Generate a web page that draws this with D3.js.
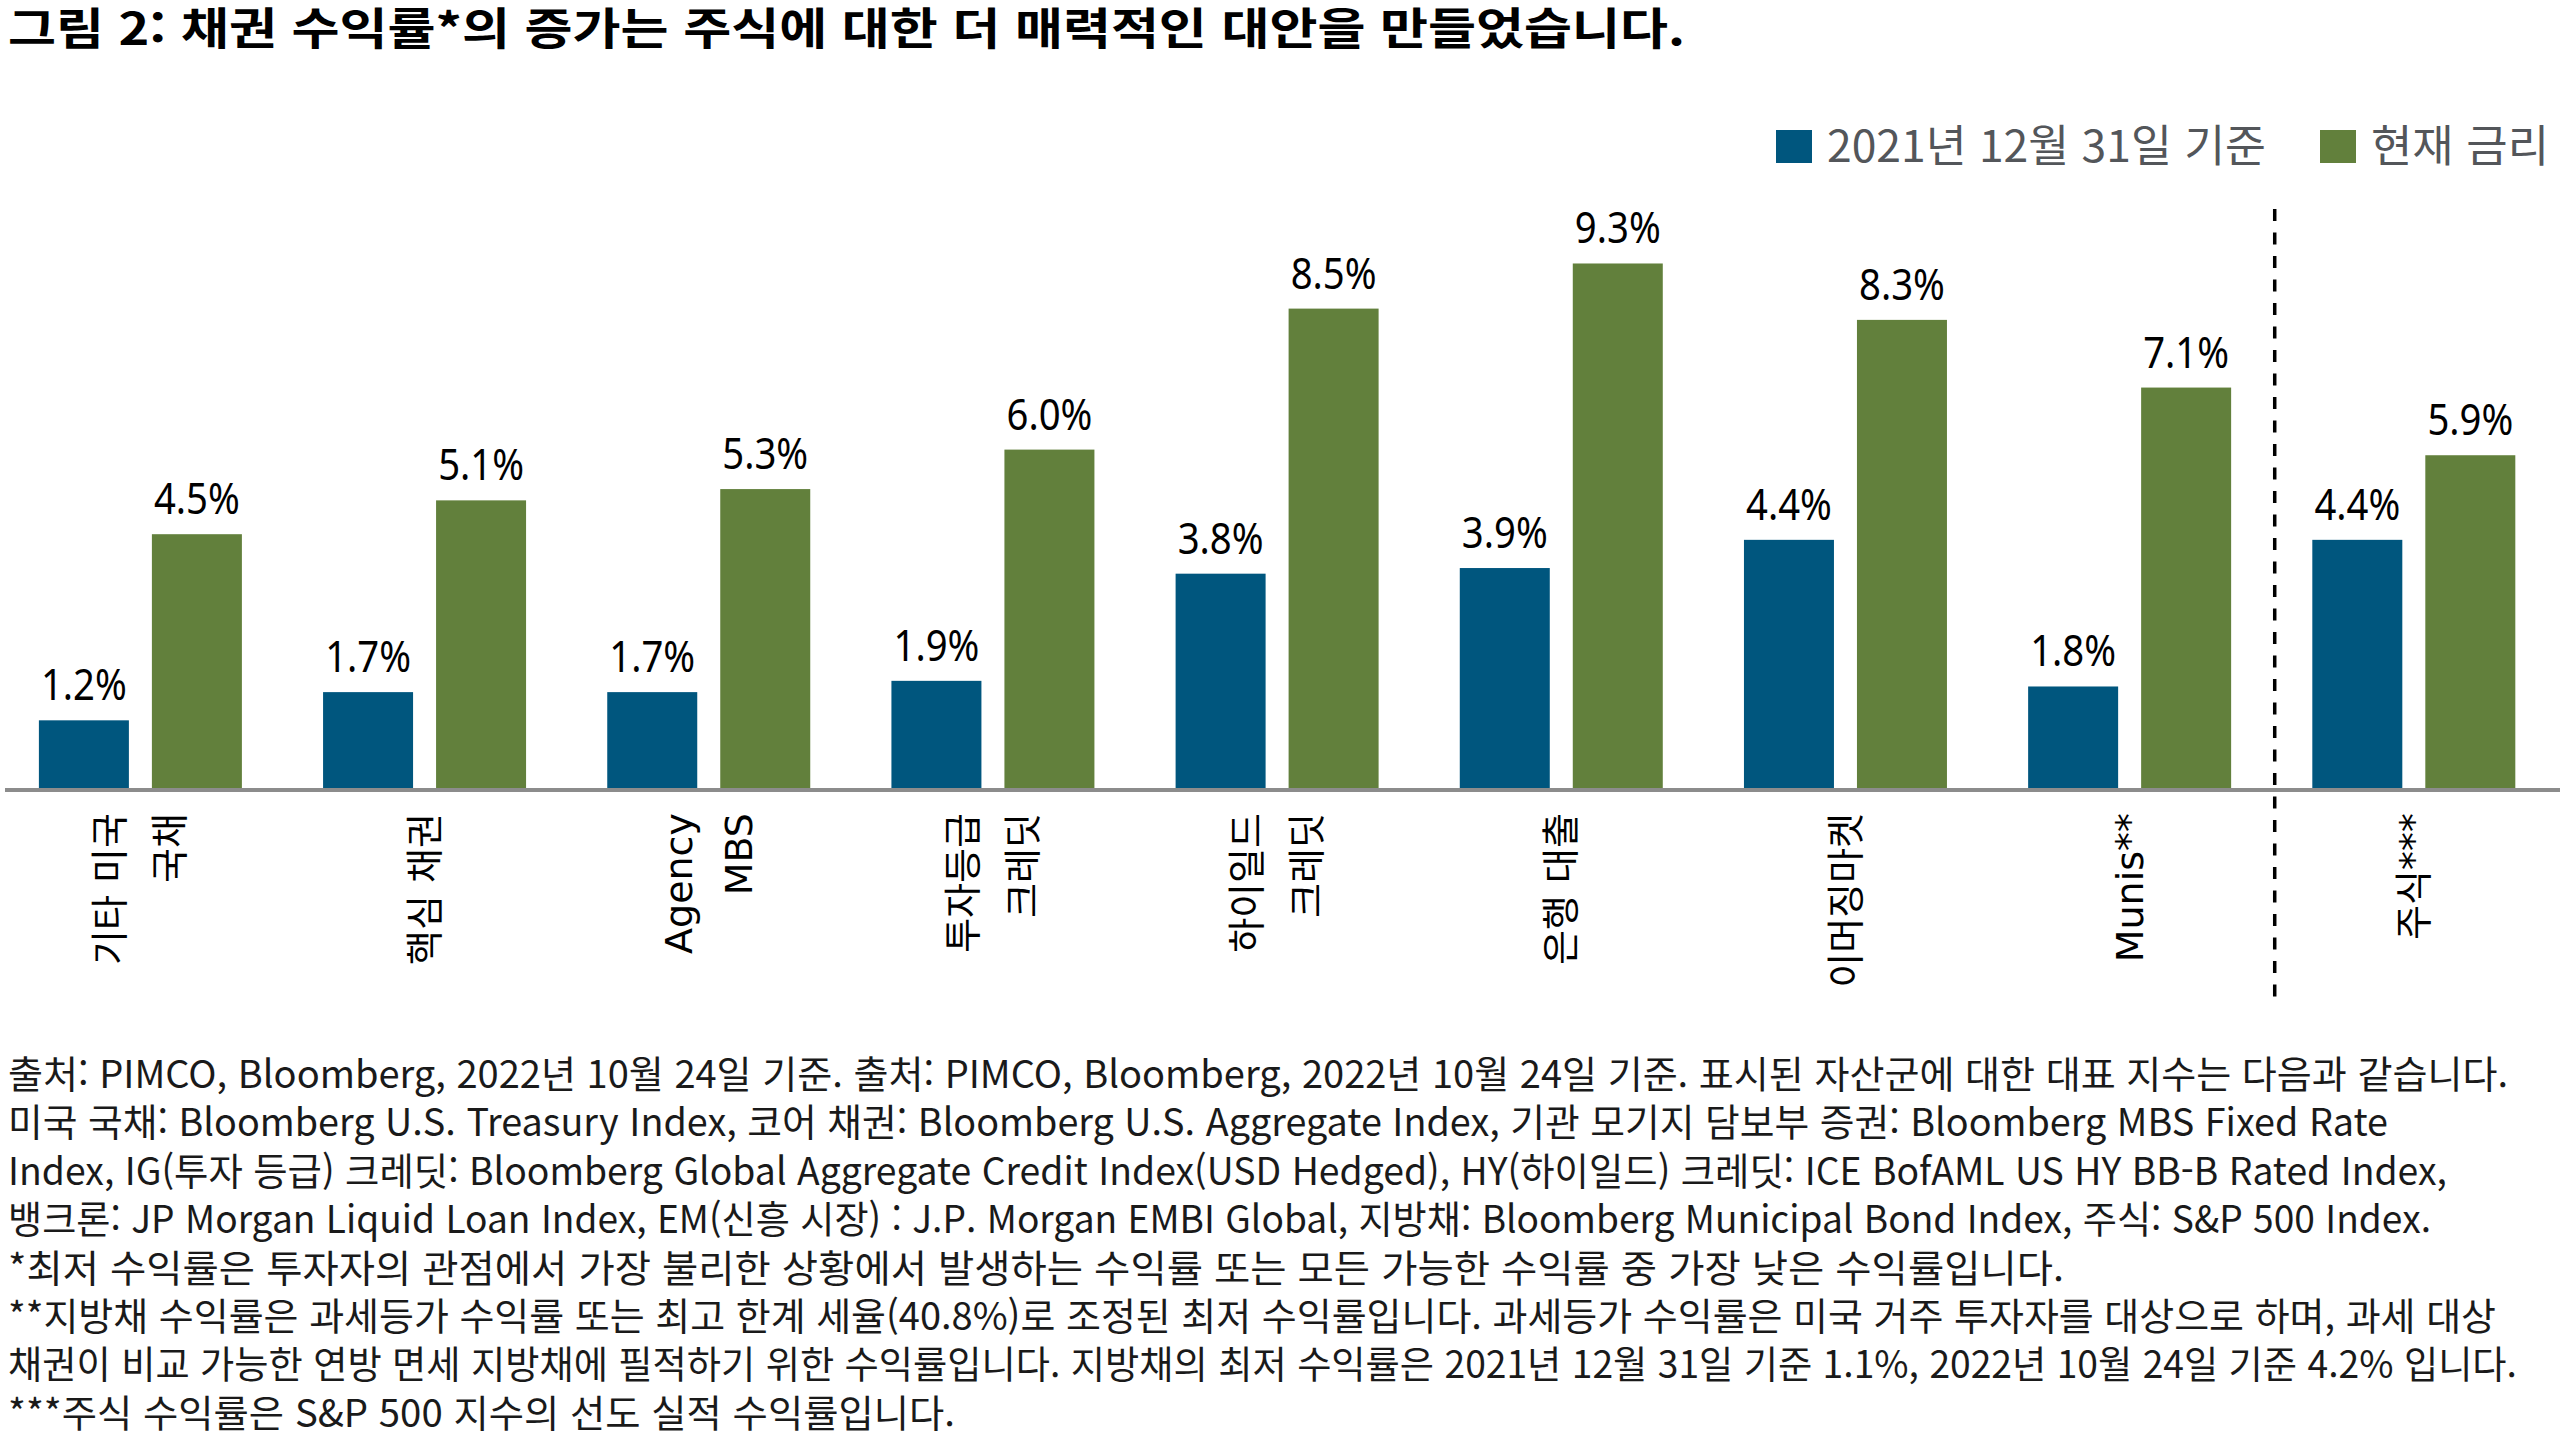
<!DOCTYPE html>
<html lang="ko">
<head>
<meta charset="utf-8">
<script src="https://cdn.jsdelivr.net/npm/d3@7"></script>
<style>
  html, body { margin: 0; padding: 0; background: #ffffff; }
  svg { display: block; }
</style>
</head>
<body>
<script>
// ---------------- data ----------------
const titleText = "그림 2: 채권 수익률*의 증가는 주식에 대한 더 매력적인 대안을 만들었습니다.";
const categories = [
  ["기타 미국", "국채"],
  ["핵심 채권"],
  ["Agency", "MBS"],
  ["투자등급", "크레딧"],
  ["하이일드", "크레딧"],
  ["은행 대출"],
  ["이머징마켓"],
  ["Munis**"],
  ["주식***"]
];
const seriesNames = ["2021년 12월 31일 기준", "현재 금리"];
const yield2021 = [1.2, 1.7, 1.7, 1.9, 3.8, 3.9, 4.4, 1.8, 4.4];
const yieldCurrent = [4.5, 5.1, 5.3, 6.0, 8.5, 9.3, 8.3, 7.1, 5.9];
const separatorBefore = 8; // dashed divider before "주식***"
const footnotes = [
  "출처: PIMCO, Bloomberg, 2022년 10월 24일 기준. 출처: PIMCO, Bloomberg, 2022년 10월 24일 기준. 표시된 자산군에 대한 대표 지수는 다음과 같습니다.",
  "미국 국채: Bloomberg U.S. Treasury Index, 코어 채권: Bloomberg U.S. Aggregate Index, 기관 모기지 담보부 증권: Bloomberg MBS Fixed Rate",
  "Index, IG(투자 등급) 크레딧: Bloomberg Global Aggregate Credit Index(USD Hedged), HY(하이일드) 크레딧: ICE BofAML US HY BB-B Rated Index,",
  "뱅크론: JP Morgan Liquid Loan Index, EM(신흥 시장) : J.P. Morgan EMBI Global, 지방채: Bloomberg Municipal Bond Index, 주식: S&P 500 Index.",
  "*최저 수익률은 투자자의 관점에서 가장 불리한 상황에서 발생하는 수익률 또는 모든 가능한 수익률 중 가장 낮은 수익률입니다.",
  "**지방채 수익률은 과세등가 수익률 또는 최고 한계 세율(40.8%)로 조정된 최저 수익률입니다. 과세등가 수익률은 미국 거주 투자자를 대상으로 하며, 과세 대상",
  "채권이 비교 가능한 연방 면세 지방채에 필적하기 위한 수익률입니다. 지방채의 최저 수익률은 2021년 12월 31일 기준 1.1%, 2022년 10월 24일 기준 4.2% 입니다.",
  "***주식 수익률은 S&P 500 지수의 선도 실적 수익률입니다."
];

// ---------------- layout / style ----------------
const W = 2560, H = 1440;
const colors = ["#00567e", "#62803c"];
const baseY = 788;
const CJK = "'Noto Sans CJK KR', 'Noto Sans', sans-serif";
// rendered line widths of the footnote block (layout only)
const footnoteWidths = [2500, 2380, 2439, 2423, 2056, 2488, 2509, 947];
const legendWidths = [439, 178];

const rows = categories.map((c, i) => ({ key: i, label: c, values: [yield2021[i], yieldCurrent[i]] }));

const svg = d3.select("body").append("svg")
  .attr("width", W).attr("height", H)
  .attr("viewBox", `0 0 ${W} ${H}`);

svg.append("rect").attr("width", W).attr("height", H).attr("fill", "#fff");

// title
svg.append("text")
  .attr("x", 8).attr("y", 45)
  .attr("font-family", CJK)
  .attr("font-weight", 700)
  .attr("font-size", 44)
  .attr("fill", "#000")
  .attr("textLength", 1677)
  .attr("lengthAdjust", "spacingAndGlyphs")
  .text(titleText);

// scales
const x0 = d3.scaleBand().domain(rows.map(d => d.key)).range([-1.6, 2556]).padding(0);
const x1 = d3.scaleBand().domain([0, 1]).range([40.5, 243.5]).paddingInner(23 / 113);
const y = d3.scaleLinear().domain([0, 10]).range([baseY, baseY - 564]);
const fmt = v => d3.format(".1f")(v) + "%";
const shift = (x0.bandwidth() - 284.2) / 2;

// bars
const g = svg.selectAll("g.grp").data(rows).join("g")
  .attr("class", "grp")
  .attr("transform", d => `translate(${x0(d.key) + shift},0)`);

g.selectAll("rect").data(d => d.values.map((v, s) => ({ v, s }))).join("rect")
  .attr("x", d => x1(d.s))
  .attr("width", x1.bandwidth())
  .attr("y", d => y(d.v))
  .attr("height", d => y(0) - y(d.v))
  .attr("fill", d => colors[d.s]);

g.selectAll("text.val").data(d => d.values.map((v, s) => ({ v, s }))).join("text")
  .attr("class", "val")
  .attr("transform", d => `translate(${x1(d.s) + x1.bandwidth() / 2},${y(d.v) - 20}) scale(0.87,1)`)
  .attr("text-anchor", "middle")
  .attr("font-family", "'Noto Sans', sans-serif")
  .attr("font-size", 44)
  .attr("fill", "#000")
  .text(d => fmt(d.v));

// axis baseline
svg.append("line")
  .attr("x1", 5).attr("x2", W)
  .attr("y1", baseY + 2).attr("y2", baseY + 2)
  .attr("stroke", "#8c8c8c").attr("stroke-width", 4);

// category labels (rotated)
const cx = k => x0(k) + x0.bandwidth() / 2;
rows.forEach(d => {
  const n = d.label.length;
  d.label.forEach((line, li) => {
    const off = (li - (n - 1) / 2) * 60;
    svg.append("text")
      .attr("transform", `translate(${cx(d.key) + off},813) rotate(-90)`)
      .attr("text-anchor", "end")
      .attr("dominant-baseline", "central")
      .attr("font-family", "'DejaVu Sans', 'Noto Sans CJK KR', sans-serif")
      .attr("font-size", 38)
      .attr("fill", "#000")
      .text(line);
  });
});

// dashed divider
const divX = (x0(separatorBefore - 1) + x1(1) + x1.bandwidth() + x0(separatorBefore) + x1(0)) / 2 + shift + 3;
svg.append("line")
  .attr("x1", divX).attr("x2", divX)
  .attr("y1", 209).attr("y2", 1004)
  .attr("stroke", "#000").attr("stroke-width", 3.5)
  .attr("stroke-dasharray", "12,11.5");

// legend
const legend = svg.append("g").attr("font-family", CJK).attr("font-size", 44).attr("fill", "#53565a");
const legendX = [1776, 2320];
seriesNames.forEach((name, i) => {
  legend.append("rect")
    .attr("x", legendX[i]).attr("y", 130)
    .attr("width", 36).attr("height", 33)
    .attr("fill", colors[i]);
  legend.append("text")
    .attr("x", legendX[i] + 51).attr("y", 162)
    .attr("textLength", legendWidths[i])
    .attr("lengthAdjust", "spacingAndGlyphs")
    .text(name);
});

// footnotes
svg.append("g")
  .attr("font-family", CJK)
  .attr("font-size", 38)
  .attr("fill", "#1a1a1a")
  .selectAll("text").data(footnotes).join("text")
  .attr("x", 8)
  .attr("y", (d, i) => 1088 + i * 48.4)
  .attr("textLength", (d, i) => footnoteWidths[i])
  .attr("lengthAdjust", "spacingAndGlyphs")
  .text(d => d);
</script>
</body>
</html>
